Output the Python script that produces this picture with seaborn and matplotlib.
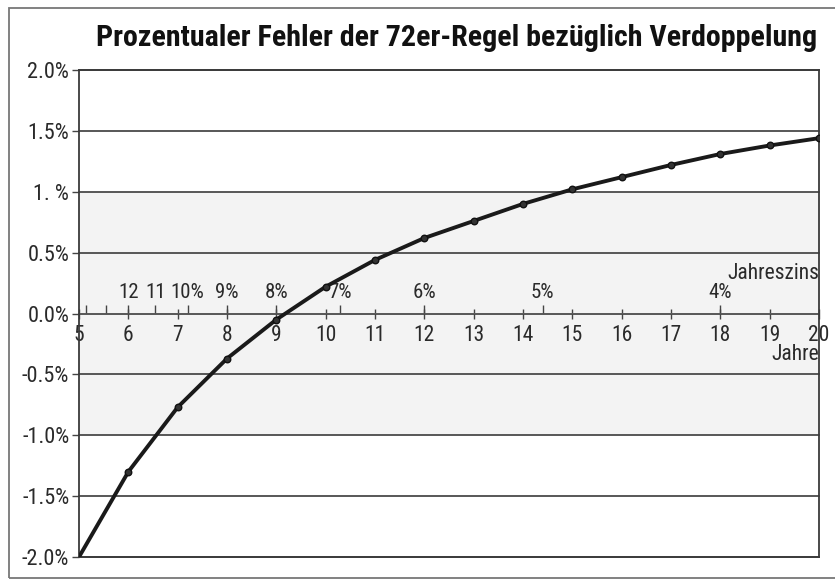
import matplotlib
matplotlib.use("Agg")
import matplotlib.pyplot as plt
from matplotlib import font_manager as fm
from matplotlib.patches import Rectangle
import seaborn as sns
import pandas as pd

# Laufzeit in Jahren und prozentualer Fehler der 72er-Regel
jahre = [5, 6, 7, 8, 9, 10, 11, 12, 13, 14, 15, 16, 17, 18, 19, 20]
fehler = [-2.0, -1.30, -0.77, -0.37, -0.05, 0.22, 0.44, 0.62, 0.76,
          0.90, 1.02, 1.12, 1.22, 1.31, 1.38, 1.44]
# Jahre mit Punktmarkierung
markiert = [False] + [True] * 15

# Jahreszins-Skala (72er-Regel: Jahre = 72 / Zins)
zinssaetze = [14, 13, 12, 11, 10, 9, 8, 7, 6, 5, 4]
zins_labels = ["", "", "12", "11", "10%", "9%", "8%", "7%", "6%", "5%", "4%"]

y_ticks = [-2.0, -1.5, -1.0, -0.5, 0.0, 0.5, 1.0, 1.5, 2.0]
y_labels = ["-2.0%", "-1.5%", "-1.0%", "-0.5%", "0.0%", "0.5%", "1. %", "1.5%", "2.0%"]

titel = "Prozentualer Fehler der 72er-Regel bezüglich Verdoppelung"

sns.set_theme(style="white")

# schmale Schrift bevorzugen, sofern vorhanden
namen = {f.name for f in fm.fontManager.ttflist}
schmal = [n for n in ["Liberation Sans Narrow", "DejaVu Sans Condensed",
                      "Roboto Condensed", "Open Sans Condensed"] if n in namen]
hat_schmal = bool(schmal) or any(
    f.name == "DejaVu Sans" and f.stretch in ("condensed", "semi-condensed")
    for f in fm.fontManager.ttflist)
plt.rcParams["font.family"] = schmal + ["DejaVu Sans"]
plt.rcParams["font.stretch"] = "condensed"
fs = 15.5 if hat_schmal else 13
fs_y = 16 if hat_schmal else 13.5
fs_zins = 15 if hat_schmal else 11.5

df = pd.DataFrame({"Jahre": jahre, "Fehler": fehler, "markiert": markiert})

W, H = 835, 580
fig = plt.figure(figsize=(W / 100, H / 100), dpi=100)
fig.patch.set_facecolor("white")

# äußerer Rahmen
fig.patches.append(Rectangle((9 / W, 2 / H), 1.5, (576 - 6) / H, transform=fig.transFigure,
                             fill=False, edgecolor="#777777", linewidth=1.3, zorder=0))

ax = fig.add_axes([79 / W, (H - 557) / H, (819 - 79) / W, (557 - 70) / H])
ax.set_facecolor("white")

# hellgrauer Bereich zwischen -1 % und 1 %
ax.axhspan(-1.0, 1.0, color="#f3f3f3", zorder=0, linewidth=0)

for y in y_ticks:
    ax.axhline(y, color="#4a4a4a", linewidth=1.3, zorder=1, clip_on=False)

sns.lineplot(data=df, x="Jahre", y="Fehler", ax=ax, color="#1a1a1a",
             linewidth=2.8, zorder=3)
sns.scatterplot(data=df[df["markiert"]], x="Jahre", y="Fehler", ax=ax,
                color="#333333", edgecolor="#111111", s=22, linewidth=1.0, zorder=4)

ax.set_xlim(5, 20)
ax.set_ylim(-2.0, 2.0)
ax.set_yticks(y_ticks)
ax.set_yticklabels(y_labels)
ax.tick_params(axis="y", direction="out", length=5, width=1.0, color="#444444",
               labelsize=fs_y, labelcolor="#2a2a2a", pad=2, left=True)
ax.tick_params(axis="x", bottom=False, labelbottom=False)
ax.set_xlabel("")
ax.set_ylabel("")
for side in ["left", "right", "top", "bottom"]:
    ax.spines[side].set_visible(True)
    ax.spines[side].set_color("#3a3a3a")
    ax.spines[side].set_linewidth(1.3)

# Jahresachse auf der Nulllinie
yr = ax.secondary_xaxis(0.5)
yr.set_alignment("bottom")
yr.set_xticks(jahre)
yr.set_xticklabels([str(j) for j in jahre])
yr.tick_params(axis="x", direction="inout", length=7, width=1.0, color="#444444",
               labelsize=fs, labelcolor="#2a2a2a", pad=5)
yr.spines["bottom"].set_visible(False)
yr.set_xlabel("Jahre", loc="right", fontsize=fs, color="#2a2a2a", labelpad=-2)

# Jahreszins-Achse auf der Nulllinie
zs = ax.secondary_xaxis(0.5, functions=(lambda n: 72 / n, lambda r: 72 / r))
zs.set_alignment("top")
zs.set_xticks(zinssaetze)
zs.set_xticklabels(zins_labels)
zs.tick_params(axis="x", direction="out", length=6, width=1.0, color="#444444",
               labelsize=fs_zins, labelcolor="#2a2a2a", pad=2)
for s in zs.spines.values():
    s.set_visible(False)
zs.set_xlabel("Jahreszins", loc="right", fontsize=fs, color="#2a2a2a", labelpad=3)

# Titel auf die verfügbare Breite einpassen
t = fig.text(457 / W, 1 - 38 / H, titel, ha="center", va="center", fontsize=18,
             fontweight="black", color="#111111")
renderer = fig.canvas.get_renderer()
breite = t.get_window_extent(renderer).width
if breite > 0:
    t.set_fontsize(18 * 721 / breite)

fig.savefig("out.png", dpi=100, facecolor="white")
